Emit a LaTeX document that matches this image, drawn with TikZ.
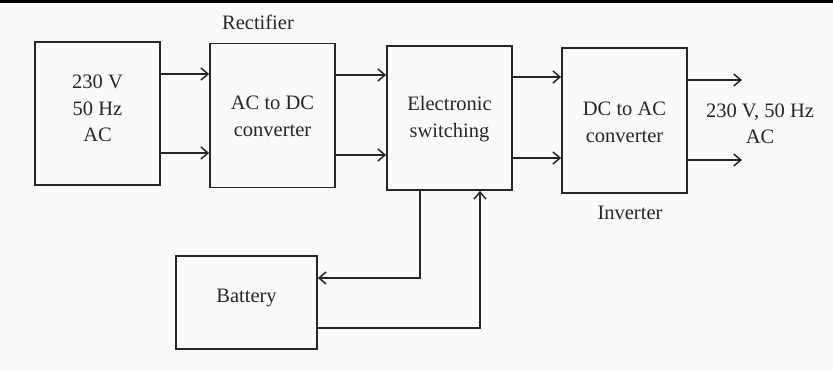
\documentclass[tikz,border=0pt]{standalone}
\usepackage{fontspec}
\setmainfont{Liberation Serif}
\usetikzlibrary{arrows.meta}
\begin{document}
\begin{tikzpicture}[x=1pt,y=-1pt,
  blk/.style={draw=black!85,line width=1.8pt,inner sep=0pt},
  lbl/.style={font=\fontsize{20.5}{26.5}\selectfont,align=center,text=black!85},
  conn/.style={draw=black!85,line width=1.8pt,-{Straight Barb[length=7pt,width=12pt,line width=1.5pt]}}]
\fill[black!2] (0,0) rectangle (833,371);
\useasboundingbox (0,0) rectangle (833,371);
\draw[line width=3pt] (0,1.5) -- (833,1.5);
% blocks
\node[blk,minimum width=125pt,minimum height=143pt] (src) at (97.5,113.5) {};
\node[blk,minimum width=125pt,minimum height=144pt] (rect) at (272.5,115.5) {};
\node[blk,minimum width=125pt,minimum height=144pt] (sw) at (449.5,118) {};
\node[blk,minimum width=125pt,minimum height=145pt] (inv) at (624.5,120.5) {};
\node[blk,minimum width=141pt,minimum height=93pt] (bat) at (246.5,302.5) {};
% texts
\node[lbl] at ([yshift=5pt]src.center) {230 V\\50 Hz\\AC};
\node[lbl] at ([yshift=-1pt]rect.center) {AC to DC\\converter};
\node[lbl] at ([yshift=-1pt]sw.center) {Electronic\\switching};
\node[lbl] at ([yshift=-2pt]inv.center) {DC to AC\\converter};
\node[lbl] at ([yshift=4pt]bat.center) {Battery};
\node[lbl] (rlab) at (258,22) {Rectifier};
\node[lbl] (ilab) at (630,213) {Inverter};
\node[lbl] (out) at (760,124) {230 V, 50 Hz\\AC};
% coordinates
\coordinate (o1) at (742,80);
\coordinate (o2) at (742,160);
% connectors
\draw[conn] (src.east |- 0,74) -- (rect.west |- 0,74);
\draw[conn] (src.east |- 0,153) -- (rect.west |- 0,153);
\draw[conn] (rect.east |- 0,75) -- (sw.west |- 0,75);
\draw[conn] (rect.east |- 0,155) -- (sw.west |- 0,155);
\draw[conn] (sw.east |- 0,77) -- (inv.west |- 0,77);
\draw[conn] (sw.east |- 0,158) -- (inv.west |- 0,158);
\draw[conn] (inv.east |- o1) -- (o1);
\draw[conn] (inv.east |- o2) -- (o2);
\draw[conn] (sw.south -| 420,0) |- (bat.east |- 0,278);
\draw[conn] (bat.east |- 0,328) -| (sw.south -| 480,0);
\end{tikzpicture}
\end{document}
